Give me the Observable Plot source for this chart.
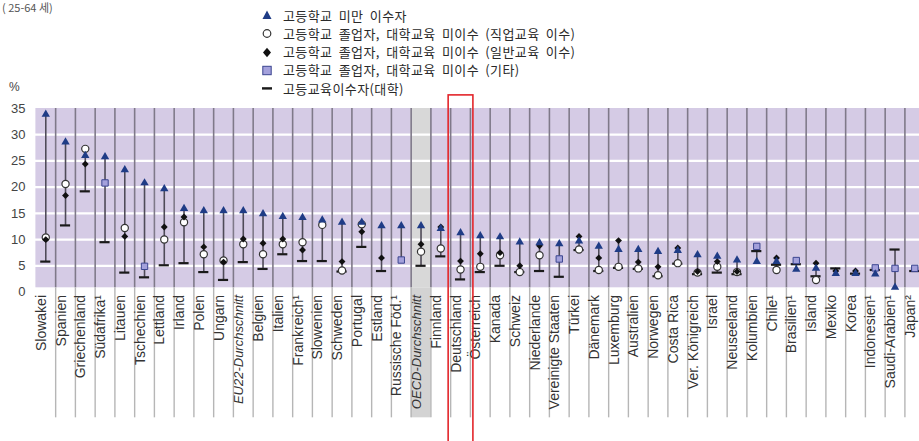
<!DOCTYPE html>
<html>
<head>
<meta charset="utf-8">
<script src="https://cdn.jsdelivr.net/npm/d3@7"></script>
<script src="https://cdn.jsdelivr.net/npm/@observablehq/plot@0.6"></script>
<style>
  body { margin: 0; background: #fff; }
  #wrap { position: relative; width: 919px; height: 441px; overflow: hidden; }
  #head { position: relative; height: 92px; z-index: 1; font-family: "Noto Sans CJK KR", "Noto Sans", sans-serif; color: #2a2a2a; }
  #title { position: absolute; left: 2px; top: 1px; font-size: 11px; line-height: 13px; color: #555; white-space: nowrap; }
  #unit { position: absolute; left: 9px; top: 80px; font-size: 12px; color: #444; font-family: "Liberation Sans", Arial, sans-serif; }
  .item { position: absolute; left: 261px; height: 18px; display: flex; align-items: center; white-space: nowrap; font-size: 13px; letter-spacing: 0.4px; word-spacing: 3px; }
  .item svg { width: 12px; height: 12px; margin-right: 10px; flex: none; }
  #chart svg { display: block; }
</style>
</head>
<body>
<div id="wrap">
  <div id="head">
    <div id="title">( 25-64 세)</div>
    <div id="unit">%</div>
    <div id="legend"></div>
  </div>
  <div id="chart"></div>
</div>
<script>
// Countries, ordered as in the chart
const countries = [
  "Slowakei", "Spanien", "Griechenland", "Südafrika¹", "Litauen", "Tschechien", "Lettland",
  "Irland", "Polen", "Ungarn", "EU22-Durchschnitt", "Belgien", "Italien", "Frankreich¹",
  "Slowenien", "Schweden", "Portugal", "Estland", "Russische Föd.¹", "OECD-Durchschnitt",
  "Finnland", "Deutschland", "Österreich", "Kanada", "Schweiz", "Niederlande",
  "Vereinigte Staaten", "Türkei", "Dänemark", "Luxemburg", "Australien", "Norwegen",
  "Costa Rica", "Ver. Königreich", "Israel", "Neuseeland", "Kolumbien", "Chile¹",
  "Brasilien¹", "Island", "Mexiko", "Korea", "Indonesien¹", "Saudi-Arabien¹", "Japan²"
];

// Unemployment rates (%), 25-64 year-olds, by educational attainment
const belowUpperSecondary = [
  33.9, 28.6, 26.0, 25.8, 23.3, 20.8, 19.7, 15.9, 15.5, 15.5, 15.5, 14.9, 14.4, 14.2,
  13.7, 13.3, 13.3, 12.6, 12.6, 12.6, 12.1, 11.3, 10.7, 10.5, 9.5, 9.4,
  9.2, 9.7, 8.7, 8.1, 8.1, 7.7, 7.9, 7.1, 6.8, 6.1, 5.8, 5.8,
  4.3, 4.5, 3.5, 3.5, 3.4, 0.9, null
];
const upperSecondaryVocational = [
  10.4, 20.6, 27.3, null, 12.2, null, 10.0, 13.3, 7.2, 6.0, 9.1, 7.2, 9.1, 9.5,
  12.8, 4.1, 12.9, null, null, 7.7, 8.3, 4.3, 4.8, 7.0, 3.8, 7.0,
  null, 8.1, 4.2, 4.8, 4.5, 3.2, 5.5, 3.7, 4.8, 3.8, null, 4.2,
  null, 2.3, null, null, null, null, null
];
const upperSecondaryGeneral = [
  10.0, 18.4, 24.4, null, 10.6, null, 12.4, 14.3, 8.6, 5.7, 10.1, 9.3, 10.1, 8.0,
  null, 5.8, 11.5, 6.5, null, 9.1, 12.4, 5.9, 7.3, 7.5, 5.0, 8.8,
  null, 10.6, 6.5, 9.8, 5.7, 4.8, 8.4, 3.9, 5.8, 3.9, null, 6.5,
  null, 5.5, 4.0, 4.0, null, null, null
];
const upperSecondaryOther = [
  null, null, null, 20.8, null, 4.9, null, null, null, null, null, null, null, null,
  null, null, null, null, 6.1, null, null, null, null, null, null, null,
  6.3, null, null, null, null, null, null, null, null, null, 8.7, null,
  6.0, null, null, null, 4.6, 4.5, 4.5
];
const tertiary = [
  5.8, 12.7, 19.2, 9.5, 3.7, 2.8, 5.1, 5.5, 3.8, 2.3, 5.7, 4.4, 7.2, 5.9,
  5.9, 3.9, 8.6, 4.0, null, 5.0, 6.8, 2.4, 3.8, 5.0, 3.8, 4.0,
  2.9, 8.0, 4.0, 4.6, 4.4, 3.0, 5.4, 3.4, 3.7, 3.4, 7.8, 5.2,
  5.3, 3.0, 4.5, 3.5, 4.2, 8.1, 4.0
];
const yTicks = [0, 5, 10, 15, 20, 25, 30, 35];
const oecdAverage = "OECD-Durchschnitt";
const averages = ["EU22-Durchschnitt", "OECD-Durchschnitt"];
const highlighted = "Deutschland";

const legendItems = [
  {label: "고등학교 미만 이수자", symbol: "triangle"},
  {label: "고등학교 졸업자, 대학교육 미이수 (직업교육 이수)", symbol: "circle"},
  {label: "고등학교 졸업자, 대학교육 미이수 (일반교육 이수)", symbol: "diamond"},
  {label: "고등학교 졸업자, 대학교육 미이수 (기타)", symbol: "square"},
  {label: "고등교육이수자(대학)", symbol: "bar"}
];

// Colours
const C = {
  band: "#d5cbe5", oecd: "#d8d8d8", oecdLabel: "#d3d3d3", sep: "#7f7989", labelSep: "#b6b6b6",
  range: "#4f4b58", tri: "#1f3c86", sqFill: "#a4a1dc", sqStroke: "#3b4590",
  dia: "#111", tert: "#1a1a1a", red: "#e3262b"
};

// Legend
const shapes = {
  triangle: `<polygon points="6,1.5 10.5,10 1.5,10" fill="${C.tri}"/>`,
  circle: `<circle cx="6" cy="6.5" r="3.8" fill="#fff" stroke="#333" stroke-width="1.2"/>`,
  diamond: `<polygon points="6,1.8 10,6.5 6,11.2 2,6.5" fill="${C.dia}"/>`,
  square: `<rect x="1.8" y="2.3" width="8.4" height="8.4" fill="${C.sqFill}" stroke="${C.sqStroke}" stroke-width="1"/>`,
  bar: `<rect x="1" y="5.2" width="10" height="2.4" fill="${C.tert}"/>`
};
const legend = document.getElementById("legend");
legendItems.forEach((d, i) => {
  const el = document.createElement("div");
  el.className = "item";
  el.style.top = (6 + i * 18.3) + "px";
  el.innerHTML = `<svg viewBox="0 0 12 12">${shapes[d.symbol]}</svg><span>${d.label}</span>`;
  legend.appendChild(el);
});

// Rows for the marks
const rows = countries.map((country, i) => {
  const r = {
    country,
    below: belowUpperSecondary[i],
    voc: upperSecondaryVocational[i],
    gen: upperSecondaryGeneral[i],
    other: upperSecondaryOther[i],
    tert: tertiary[i]
  };
  const v = [r.below, r.voc, r.gen, r.other, r.tert].filter(d => d != null);
  r.lo = d3.min(v);
  r.hi = d3.max(v);
  return r;
});

// Geometry of the column bands (the last column runs past the right edge)
const x0 = 35.4, bw = 19.75;
const x1 = x0 + bw * countries.length;
const bandBottom = 0.8;   // purple area stops just above zero
const labelBottom = -24;  // separators reach down through the label area

const chart = Plot.plot({
  width: 919,
  height: 349,
  marginTop: 16,
  marginBottom: 149.5,
  marginLeft: 35,
  marginRight: 0,
  style: {fontFamily: "'Liberation Sans', Arial, sans-serif", background: "transparent"},
  x: {domain: countries, range: [x0, x1], padding: 0, axis: null},
  y: {domain: [0, 35], axis: null},
  marks: [
    Plot.rect(countries, {x: d => d, y1: bandBottom, y2: 35, fill: d => d === oecdAverage ? C.oecd : C.band}),
    Plot.rect([oecdAverage], {x: d => d, y1: labelBottom, y2: bandBottom, fill: C.oecdLabel}),
    Plot.ruleY(yTicks.filter(t => t > 0 && t < 35), {stroke: "#fff", strokeWidth: 2.2}),
    Plot.ruleX(countries.slice(1), {x: d => d, dx: -bw / 2, y1: bandBottom, y2: 35, stroke: C.sep, strokeWidth: 1.6}),
    Plot.ruleX(countries.slice(1), {x: d => d, dx: -bw / 2, y1: labelBottom, y2: bandBottom, stroke: C.labelSep, strokeWidth: 1.4}),
    Plot.ruleX(rows, {x: "country", y1: "lo", y2: "hi", stroke: C.range, strokeWidth: 1.6}),
    Plot.tickY(rows, {x: "country", y: "tert", stroke: C.tert, strokeWidth: 2.2, insetLeft: 4.8, insetRight: 4.8}),
    Plot.dot(rows, {x: "country", y: "voc", r: 3.6, fill: "#fff", stroke: "#333", strokeWidth: 1.2}),
    Plot.dot(rows, {x: "country", y: "other", symbol: "square", r: 3.6, fill: C.sqFill, stroke: C.sqStroke, strokeWidth: 1}),
    Plot.dot(rows, {x: "country", y: "gen", symbol: "diamond2", r: 3.1, fill: C.dia}),
    Plot.dot(rows, {x: "country", y: "below", symbol: "triangle", r: 3.1, fill: C.tri}),
    Plot.axisY({ticks: yTicks, tickSize: 0, tickPadding: 10, fontSize: 13, fill: "#444"}),
    Plot.text(countries.filter(d => !averages.includes(d)), {
      x: d => d, text: d => d, frameAnchor: "bottom", rotate: -90, textAnchor: "end",
      dy: 3, fontSize: 14, fill: "#333"
    }),
    Plot.text(averages, {
      x: d => d, text: d => d, frameAnchor: "bottom", rotate: -90, textAnchor: "end",
      dy: 3, fontSize: 13, fontStyle: "italic", fill: "#333"
    }),
    Plot.rect([highlighted], {x: d => d, y1: -40, y2: 37.5, fill: "none", stroke: C.red, strokeWidth: 1.6, insetLeft: -2, insetRight: -3})
  ]
});
document.getElementById("chart").appendChild(chart);
</script>
</body>
</html>
